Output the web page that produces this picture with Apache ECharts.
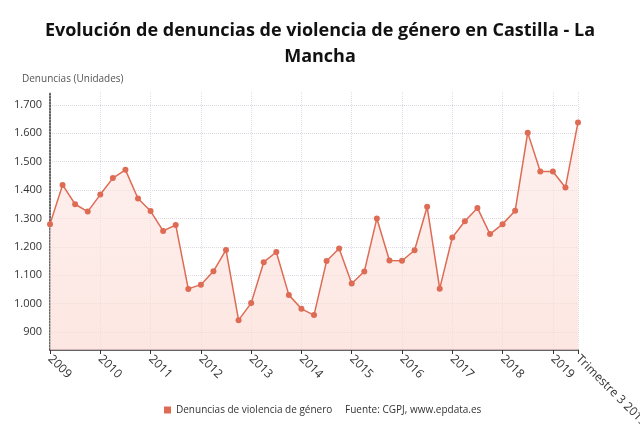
<!DOCTYPE html>
<html>
<head>
<meta charset="utf-8">
<script src="https://cdn.jsdelivr.net/npm/echarts@6/dist/echarts.min.js"></script>
<style>html,body{margin:0;padding:0;background:#fff;}#c{width:640px;height:431px;}</style>
</head>
<body>
<div id="c"></div>
<script>
var years = ['2009','2010','2011','2012','2013','2014','2015','2016','2017','2018','2019'];
var quarterNames = ['', 'Trimestre 2', 'Trimestre 3', 'Trimestre 4'];
var denuncias = [1280,1418,1350,1324,1384,1442,1471,1370,1326,1256,1277,1052,1067,1114,1189,942,1002,1146,1182,1031,982,960,1150,1194,1071,1113,1300,1152,1151,1188,1341,1053,1233,1290,1337,1245,1280,1327,1602,1465,1465,1409,1638];
var seriesName = 'Denuncias de violencia de género';
var sourceText = 'Fuente: CGPJ, www.epdata.es';
var titleText = 'Evolución de denuncias de violencia de género en Castilla - La\nMancha';
var yName = 'Denuncias (Unidades)';

var categories = [];
for (var i = 0; i < denuncias.length; i++) {
  var y = years[Math.floor(i / 4)];
  var q = i % 4;
  categories.push(q === 0 ? y : quarterNames[q] + ' ' + y);
}
var last = categories.length - 1;
function fmt(v){ return String(v).replace(/\B(?=(\d{3})+(?!\d))/g, '.'); }
function shown(i){ return i % 4 === 0 || i === last; }

var chart = echarts.init(document.getElementById('c'), null, {renderer:'canvas'});
var font = '"Open Sans", sans-serif';
chart.setOption({
  animation: false,
  backgroundColor: '#fff',
  title: {
    text: titleText, left: 'center', top: 13,
    textStyle: {fontFamily: font, fontSize: 18, fontWeight: 'bold', color: '#111', lineHeight: 26}
  },
  legend: {
    bottom: 11, left: 159, itemWidth: 7, itemHeight: 7, itemGap: 5,
    icon: 'rect',
    textStyle: {fontFamily: font, fontSize: 10, color: '#333'},
    data: [seriesName]
  },
  graphic: [
    {type:'text', left: 345, top: 405, style:{text: sourceText, font: '10px "Open Sans", sans-serif', fill:'#333'}},
    {type:'text', left: 22, top: 74, style:{text: yName, font: '10px "Open Sans", sans-serif', fill:'#555'}}
  ],
  grid: {left: 50, right: 62, top: 92, bottom: 81, containLabel: false, outerBoundsMode: 'none'},
  xAxis: {
    type: 'category', data: categories, boundaryGap: false,
    axisLine: {lineStyle: {color: '#333', width: 1.5}},
    axisTick: {show: true, length: 4, lineStyle:{color:'#333'}, interval: shown},
    axisLabel: {
      rotate: -45, margin: 7, fontFamily: font, fontSize: 12, color: '#333',
      interval: shown,
      formatter: function(v){ return v; }
    },
    splitLine: {show: true, interval: shown, lineStyle: {color: '#e0dde6', type: 'dotted', width: 1}}
  },
  yAxis: {
    type: 'value', min: 837, max: 1745, splitNumber: 9,
    axisLine: {show: true, lineStyle: {color: '#333', type: 'dotted', width: 1.5}},
    axisTick: {show: false},
    axisLabel: {showMinLabel: false, showMaxLabel: false, fontFamily: font, fontSize: 11, color: '#333', margin: 8,
      formatter: function(v){ return v % 100 === 0 ? fmt(v) : ''; }},
    splitLine: {showMinLine: false, showMaxLine: false, lineStyle: {color: '#dcd8e2', type: 'dotted', width: 1}}
  },
  series: [{
    name: seriesName, type: 'line', data: denuncias,
    symbol: 'circle', symbolSize: 6, showAllSymbol: true,
    itemStyle: {color: '#de6b54'},
    lineStyle: {color: '#de6b54', width: 1.5},
    areaStyle: {color: new echarts.graphic.LinearGradient(0,0,0,1,[{offset:0,color:'rgba(253,230,226,0.8)'},{offset:1,color:'rgba(252,220,213,1)'}])}
  }]
});
</script>
</body>
</html>
